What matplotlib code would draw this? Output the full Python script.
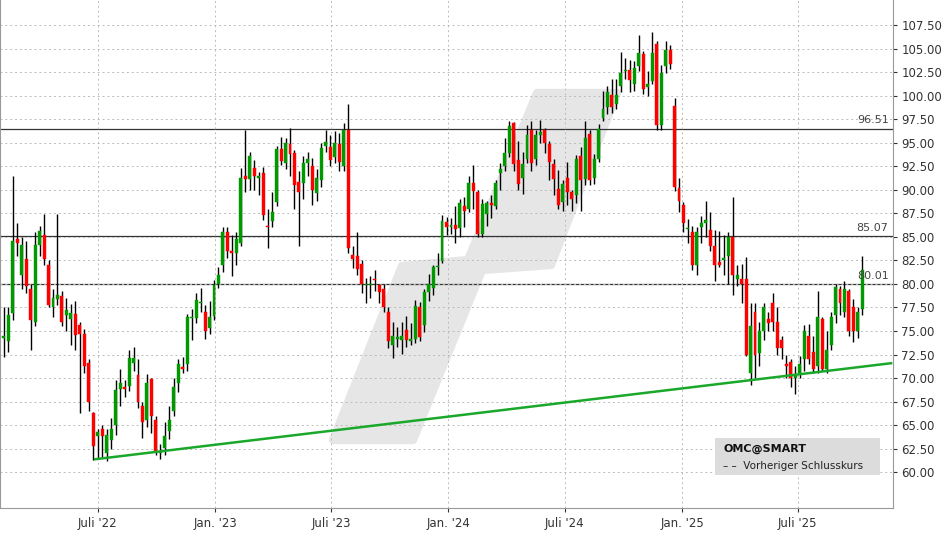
import matplotlib
matplotlib.use("Agg")
import matplotlib.pyplot as plt
import matplotlib.dates as mdates
from matplotlib.patches import Polygon, Rectangle
import numpy as np
import pandas as pd

first_date = "2022-02-04"
opens = [74.3,73.9,76.9,84.8,81.0,82.7,79.5,76.0,84.1,85.2,82.0,77.5,78.4,78.7,76.7,76.3,76.8,75.6,74.7,71.6,
66.3,63.8,64.6,62.0,63.4,65.0,68.8,69.1,69.2,71.6,70.3,67.0,65.5,69.9,65.5,62.0,62.6,64.4,66.5,69.5,
71.2,71.5,76.4,76.4,78.0,77.0,75.3,76.6,80.0,82.0,85.5,83.5,83.3,84.3,91.5,91.1,92.3,91.3,91.8,86.1,
86.7,88.7,94.3,92.8,94.9,93.9,90.8,90.7,92.8,92.5,89.7,91.0,94.6,94.5,93.5,94.9,92.5,96.3,83.1,83.0,
82.1,79.9,79.9,80.5,79.9,79.5,77.0,73.5,74.2,74.0,75.1,73.9,74.2,77.6,75.6,79.1,79.6,81.8,82.4,86.6,
86.0,86.3,85.9,88.3,88.0,90.7,89.8,85.3,87.4,88.6,88.3,91.8,92.5,93.9,97.1,93.2,91.3,93.3,96.3,93.3,
95.8,96.3,94.9,92.7,90.1,88.7,91.3,89.8,89.4,93.6,91.1,95.9,91.2,93.3,97.6,98.8,100.1,99.1,101.0,102.6,
102.7,101.2,103.1,104.4,100.9,101.6,105.5,96.9,103.1,104.8,98.9,90.2,88.4,85.8,85.5,82.0,86.0,86.5,85.7,84.0,
82.3,82.5,83.0,85.0,80.5,80.5,80.5,70.5,77.0,72.7,75.0,76.3,78.0,76.0,74.0,71.5,71.7,70.0,70.5,72.0,
74.5,72.8,71.3,76.3,71.0,73.5,76.7,79.5,77.0,79.2,77.5,75.0,77.3]
closes = [74.5,76.7,84.6,84.3,84.1,79.8,76.2,84.1,85.6,82.6,77.8,78.5,78.8,76.0,77.2,76.9,74.6,74.7,71.3,67.5,
62.8,64.3,63.9,64.0,64.6,68.7,69.5,68.8,72.1,72.1,67.5,65.3,69.5,66.0,62.3,62.1,63.8,65.5,69.0,71.5,
71.0,76.5,76.5,78.3,78.0,75.0,76.5,79.9,81.0,85.5,83.5,83.3,84.8,91.2,91.1,93.6,91.5,91.5,87.3,86.0,
87.6,94.3,93.1,95.0,93.8,90.5,89.8,92.8,93.3,90.0,91.3,94.4,95.1,93.2,95.0,93.0,96.3,83.8,82.6,81.6,
80.0,79.9,80.0,80.4,79.1,77.6,73.9,74.5,74.4,74.5,74.0,74.1,77.7,74.4,79.1,80.0,81.8,81.9,86.7,86.0,
86.3,85.8,88.6,87.8,90.7,89.9,85.3,88.5,88.6,88.4,90.7,92.2,93.9,96.8,92.7,90.6,92.7,95.8,92.8,95.8,
96.1,95.0,93.0,91.1,88.4,90.6,89.8,89.0,93.3,91.0,95.5,91.0,93.3,96.5,98.6,100.4,98.8,100.1,102.4,102.7,
101.7,102.9,104.5,100.7,101.2,104.5,96.9,102.4,104.8,103.4,90.3,88.8,86.5,85.9,82.0,85.5,86.5,86.8,84.0,82.0,
82.0,82.8,85.0,81.0,81.0,80.0,72.5,75.5,72.5,75.0,77.5,75.8,76.0,73.2,73.2,71.3,70.0,70.3,71.5,75.0,
72.0,71.0,76.5,71.0,73.0,76.5,79.7,78.0,79.5,75.0,75.0,77.0,81.5]
highs = [77.5,77.5,91.5,86.5,85.0,84.6,80.0,85.5,86.2,87.4,82.5,79.5,87.4,79.3,78.5,77.9,78.2,76.0,75.2,72.0,
66.4,64.6,65.0,64.6,65.8,69.8,71.0,69.8,73.0,73.3,72.0,67.5,70.4,70.0,66.0,63.0,65.3,67.0,70.0,72.0,
72.2,76.8,77.3,79.0,79.6,77.8,78.2,80.4,81.8,86.0,86.0,85.2,85.5,92.3,96.4,94.0,93.2,91.9,92.4,88.0,
89.8,94.6,95.6,95.5,96.6,94.2,92.0,93.6,94.0,93.4,92.2,95.0,96.4,95.8,96.2,96.0,97.1,99.1,84.0,85.5,
82.5,80.6,80.8,81.5,80.0,80.0,77.6,76.0,75.4,76.0,76.6,75.8,78.3,78.1,79.5,81.1,82.0,83.3,87.3,87.1,
87.0,88.3,89.0,89.2,91.5,92.6,90.0,89.0,88.8,89.4,91.0,92.8,95.5,97.3,97.2,95.2,94.0,96.9,97.3,96.4,
97.4,96.6,95.2,93.3,92.1,91.0,93.0,90.0,93.7,94.5,97.3,96.3,93.8,97.0,100.5,101.0,101.8,101.8,104.6,104.0,
103.8,103.7,106.4,104.7,102.6,106.8,105.8,103.3,105.8,105.4,99.7,91.3,88.7,86.9,86.2,86.0,87.2,88.8,87.6,85.7,
85.6,85.2,85.5,89.2,82.0,82.1,82.9,78.0,78.0,76.0,78.0,77.0,79.0,77.6,74.5,72.4,72.0,71.3,72.3,75.6,
75.7,74.5,79.3,76.5,75.0,77.0,80.0,79.8,80.3,79.5,78.4,77.6,83.0]
lows = [72.2,72.8,76.2,83.0,79.5,79.0,73.0,75.5,83.0,82.0,77.5,76.5,77.8,75.5,75.0,73.5,73.0,66.3,70.5,66.5,
61.3,61.4,61.6,61.2,62.5,64.0,67.0,68.0,68.6,70.8,66.8,63.6,64.8,64.2,61.8,61.4,61.8,63.5,66.0,68.5,
70.5,70.8,74.0,75.8,77.0,74.2,74.7,76.2,79.6,81.3,82.8,80.8,82.0,84.0,89.8,90.0,90.0,89.5,86.8,83.8,
86.0,88.3,92.6,92.2,91.5,88.0,84.0,89.0,91.5,88.4,88.8,90.3,94.0,92.5,92.8,92.0,92.0,83.3,81.7,81.0,
79.0,78.0,78.5,79.3,78.0,77.0,73.2,72.1,73.3,72.6,73.3,73.5,73.7,73.9,74.9,78.2,78.8,81.0,82.2,85.2,
85.3,84.3,85.0,86.0,87.6,88.0,85.0,85.0,86.2,87.0,88.0,90.0,92.0,93.5,92.0,90.0,89.6,92.8,92.0,92.6,
95.0,93.9,91.0,89.5,88.0,87.8,88.4,87.8,88.6,87.8,90.5,90.5,90.6,93.0,97.3,98.0,98.2,98.6,100.4,101.8,
100.4,100.5,102.6,100.2,100.0,101.2,96.3,96.4,102.4,102.8,89.9,87.6,85.5,84.3,81.5,81.0,84.3,85.0,83.5,80.3,
81.8,81.0,80.0,78.8,79.8,78.0,72.3,69.3,70.0,71.3,74.0,75.0,75.0,72.5,72.0,70.0,69.0,68.3,70.0,70.8,
71.5,70.5,70.5,70.8,70.5,73.0,75.8,76.7,76.5,74.5,73.8,74.3,76.7]
levels = [96.51, 85.07, 80.01]
trend_dates = ["2022-06-27", "2025-11-24"]
trend_vals = [61.38, 71.58]
yticks = np.arange(60, 107.6, 2.5)
xtick_dates = ["2022-07-01","2023-01-01","2023-07-01","2024-01-01","2024-07-01","2025-01-01","2025-07-01"]
xtick_labels = ["Juli '22","Jan. '23","Juli '23","Jan. '24","Juli '24","Jan. '25","Juli '25"]

dates = pd.date_range(first_date, periods=len(closes), freq="7D")
dn = mdates.date2num(dates)

fig = plt.figure(figsize=(9.48, 5.34), dpi=100)
ax = fig.add_axes([0.0, 26/534, 893/948, 508/534])
ax.set_xlim(mdates.date2num(pd.Timestamp("2022-01-29")), mdates.date2num(pd.Timestamp("2025-11-27")))
ax.set_ylim(56.2, 110.16)

# watermark logo (figure pixel coords)
H = 534
def fp(pts):
    return [(x/948, (H-y)/H) for x, y in pts]
wm = Polygon(fp([(333,440),(413,440),(482,270),(551,265),(617,93),(537,93),(468,260),(402,266)]),
             closed=True, transform=fig.transFigure, facecolor="#e6e6e6", edgecolor="#e6e6e6",
             linewidth=6, joinstyle="round", zorder=0.5)
ax.add_patch(wm)

for i in range(len(closes)):
    o, c, h, l = opens[i], closes[i], highs[i], lows[i]
    col = "#009a00" if c >= o else "#ff0000"
    ax.vlines(dn[i], l, h, color="black", linewidth=1.0, zorder=2)
    ax.add_patch(Rectangle((dn[i]-2.3, min(o, c)), 4.6, max(abs(c-o), 0.12),
                           facecolor=col, edgecolor=col, linewidth=0.3, zorder=3))

for lv in levels:
    ax.axhline(lv, color="#333333", linewidth=0.9, zorder=1.5)
    ax.text(0.995, lv + 0.35, f"{lv:.2f}", transform=ax.get_yaxis_transform(),
            ha="right", va="bottom", fontsize=8, color="#444444")

ax.plot(mdates.date2num(pd.to_datetime(trend_dates)), trend_vals, color="#1aa82a", linewidth=1.8, zorder=4)

ax.set_yticks(yticks)
ax.set_yticklabels([f"{v:.2f}" for v in yticks])
ax.yaxis.tick_right()
ax.set_xticks(mdates.date2num(pd.to_datetime(xtick_dates)))
ax.set_xticklabels(xtick_labels)
ax.tick_params(axis="both", labelsize=8.5, colors="#333333", length=3)
ax.tick_params(axis="y", pad=3)
ax.grid(True, color="#bbbbbb", linestyle=(0, (2, 3)), linewidth=0.7, zorder=0)
ax.spines["top"].set_visible(False)
for s in ["left", "bottom", "right"]:
    ax.spines[s].set_color("#999999")

# legend box
lg = Rectangle((715/948, (H-475)/H), 165/948, 37/H, transform=fig.transFigure,
               facecolor="#dcdcdc", edgecolor="none", zorder=5)
fig.patches.append(lg)
fig.text(723/948, (H-449)/H, "OMC@SMART", fontsize=8, fontweight="bold", va="center", color="#111111", zorder=6)
fig.text(723/948, (H-466)/H, "– –  Vorheriger Schlusskurs", fontsize=7.5, va="center", color="#222222", zorder=6)

fig.savefig("out.png", dpi=100)
